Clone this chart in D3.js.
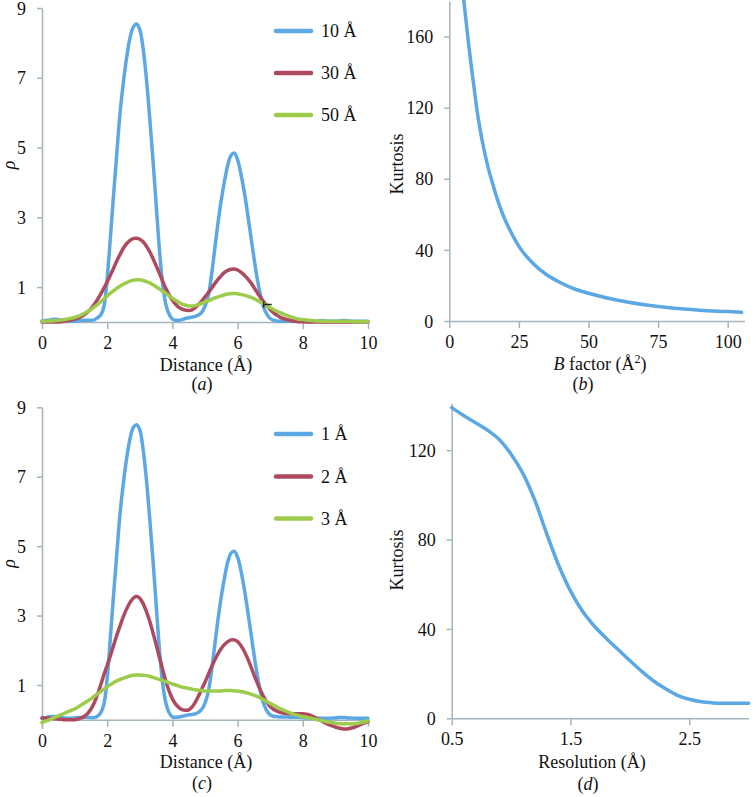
<!DOCTYPE html>
<html><head><meta charset="utf-8">
<script src="https://cdn.jsdelivr.net/npm/d3@7"></script>
<style>
body{margin:0;background:#fff;}
svg text{font-family:"Liberation Serif","Times New Roman",serif;font-size:18px;fill:#111;}
</style></head>
<body><svg id="c" width="756" height="797"></svg>
<script>
// ---------- DATA ----------
const distance = [0.0,0.1,0.2,0.3,0.4,0.5,0.6,0.7,0.8,0.9,1.0,1.1,1.2,1.3,1.4,1.5,1.6,1.7,1.8,1.9,2.0,2.1,2.2,2.3,2.4,2.5,2.6,2.7,2.8,2.9,3.0,3.1,3.2,3.3,3.4,3.5,3.6,3.7,3.8,3.9,4.0,4.1,4.2,4.3,4.4,4.5,4.6,4.7,4.8,4.9,5.0,5.1,5.2,5.3,5.4,5.5,5.6,5.7,5.8,5.9,6.0,6.1,6.2,6.3,6.4,6.5,6.6,6.7,6.8,6.9,7.0,7.1,7.2,7.3,7.4,7.5,7.6,7.7,7.8,7.9,8.0,8.1,8.2,8.3,8.4,8.5,8.6,8.7,8.8,8.9,9.0,9.1,9.2,9.3,9.4,9.5,9.6,9.7,9.8,9.9,10.0];

// panel (a): B factor series
const rhoB10 = [0.03,0.04,0.05,0.07,0.08,0.07,0.05,0.03,0.02,0.02,
  0.02,0.03,0.04,0.05,0.05,0.05,0.06,0.12,0.2,0.45,
  1.25,2.45,3.7,4.9,6.05,6.9,7.6,8.15,8.45,8.54,
  8.38,7.85,7.0,5.9,4.7,3.4,2.1,1.1,0.5,0.22,
  0.08,0.05,0.05,0.07,0.1,0.12,0.14,0.16,0.2,0.28,
  0.45,0.75,1.35,2.1,2.85,3.5,4.05,4.5,4.78,4.84,
  4.65,4.25,3.75,3.15,2.5,1.85,1.25,0.78,0.42,0.22,
  0.1,0.05,0.03,0.02,0.02,0.02,0.02,0.02,0.02,0.02,
  0.02,0.02,0.02,0.02,0.02,0.03,0.04,0.03,0.02,0.02,
  0.02,0.03,0.04,0.04,0.03,0.02,0.02,0.02,0.02,0.02,0.02];
const rhoB30 = [0,0,0,0,0,0,0.01,0.02,0.04,0.06,
  0.08,0.11,0.15,0.21,0.29,0.38,0.5,0.64,0.8,0.97,
  1.15,1.35,1.55,1.76,1.95,2.12,2.25,2.34,2.39,2.40,
  2.37,2.3,2.18,2.02,1.83,1.62,1.4,1.17,0.96,0.78,
  0.63,0.51,0.42,0.37,0.34,0.33,0.35,0.41,0.5,0.6,
  0.72,0.84,0.97,1.1,1.22,1.33,1.42,1.48,1.51,1.52,
  1.49,1.43,1.35,1.25,1.13,0.99,0.85,0.71,0.58,0.46,
  0.36,0.27,0.2,0.14,0.1,0.07,0.05,0.03,0.02,0.01,
  0.01,0,0,0,0,0,0,0,0,0,
  0,0,0,0,0,0,0,0,0,0,0];
const rhoB50 = [0.02,0.02,0.03,0.03,0.04,0.05,0.06,0.07,0.09,0.11,
  0.13,0.16,0.2,0.25,0.3,0.36,0.43,0.5,0.58,0.66,
  0.75,0.83,0.9,0.97,1.03,1.09,1.13,1.17,1.2,1.21,
  1.21,1.19,1.16,1.12,1.07,1.01,0.95,0.88,0.82,0.75,
  0.68,0.62,0.56,0.51,0.48,0.46,0.46,0.47,0.5,0.53,
  0.57,0.61,0.65,0.69,0.72,0.75,0.78,0.8,0.81,0.82,
  0.81,0.79,0.77,0.74,0.71,0.67,0.62,0.57,0.52,0.46,
  0.41,0.36,0.31,0.27,0.23,0.19,0.16,0.13,0.1,0.08,
  0.07,0.06,0.05,0.04,0.03,0.03,0.02,0.02,0.02,0.02,
  0.02,0.02,0.02,0.02,0.02,0.02,0.01,0.01,0.01,0.01,0.01];

// panel (c): resolution series
const rhoR1 = [0.04,0.06,0.08,0.09,0.09,0.08,0.06,0.05,0.04,0.04,
  0.05,0.06,0.06,0.07,0.07,0.06,0.06,0.1,0.2,0.45,
  1.2,2.4,3.65,4.85,6.0,6.85,7.55,8.1,8.42,8.5,
  8.35,7.8,6.95,5.85,4.65,3.35,2.05,1.05,0.48,0.2,
  0.08,0.07,0.08,0.1,0.12,0.14,0.15,0.17,0.21,0.3,
  0.48,0.8,1.4,2.15,2.9,3.55,4.1,4.55,4.8,4.85,
  4.68,4.3,3.8,3.2,2.55,1.9,1.3,0.82,0.46,0.25,
  0.14,0.1,0.09,0.08,0.08,0.08,0.07,0.07,0.07,0.07,
  0.06,0.05,0.05,0.04,0.04,0.04,0.04,0.04,0.04,0.05,
  0.05,0.06,0.06,0.06,0.05,0.05,0.04,0.04,0.04,0.04,0.04];
const rhoR2 = [0.05,0.05,0.05,0.04,0.03,0.02,0.01,0,0,0,
  0,0.02,0.05,0.1,0.18,0.3,0.48,0.72,1.0,1.3,
  1.57,1.85,2.15,2.45,2.72,2.98,3.2,3.38,3.5,3.56,
  3.5,3.35,3.12,2.85,2.52,2.17,1.8,1.45,1.1,0.82,
  0.6,0.45,0.35,0.29,0.27,0.28,0.36,0.5,0.68,0.88,
  1.08,1.3,1.52,1.72,1.9,2.05,2.17,2.25,2.3,2.3,
  2.25,2.14,1.98,1.78,1.55,1.3,1.07,0.85,0.66,0.5,
  0.38,0.3,0.25,0.21,0.19,0.18,0.17,0.17,0.17,0.17,
  0.17,0.16,0.14,0.1,0.05,0,-0.05,-0.1,-0.14,-0.18,
  -0.21,-0.24,-0.26,-0.27,-0.26,-0.24,-0.21,-0.17,-0.13,-0.09,-0.06];
const rhoR3 = [-0.08,-0.05,-0.01,0.03,0.07,0.11,0.15,0.19,0.23,0.27,
  0.31,0.36,0.42,0.48,0.54,0.6,0.67,0.74,0.81,0.88,
  0.95,1.01,1.07,1.12,1.16,1.2,1.23,1.26,1.28,1.29,
  1.29,1.28,1.27,1.25,1.22,1.19,1.16,1.13,1.1,1.06,
  1.03,1.0,0.97,0.94,0.92,0.9,0.88,0.86,0.85,0.84,
  0.83,0.83,0.83,0.83,0.83,0.83,0.84,0.84,0.84,0.83,
  0.82,0.81,0.79,0.77,0.74,0.71,0.67,0.62,0.57,0.52,
  0.47,0.42,0.37,0.32,0.28,0.24,0.2,0.17,0.14,0.11,
  0.09,0.07,0.05,0.03,0.01,-0.01,-0.03,-0.05,-0.07,-0.08,
  -0.1,-0.11,-0.12,-0.12,-0.12,-0.12,-0.11,-0.1,-0.08,-0.06,-0.03];

const legendA = ["10 Å","30 Å","50 Å"];
const legendC = ["1 Å","2 Å","3 Å"];

// panel (b)
const bFactor  = [5,6,7,8,9,10,12,14,16,18,20,22,25,30,35,40,45,50,60,70,80,90,100,105];
const kurtB    = [183,169,155,142,130,118,100,86,75,65,57,50.5,42,32.5,26,21.5,18,15.6,11.8,9.2,7.3,6.1,5.3,4.9];
// panel (d)
const resolution = [0.5,0.6,0.7,0.8,0.9,1.0,1.1,1.2,1.3,1.4,1.5,1.6,1.7,1.8,1.9,2.0,2.1,2.2,2.3,2.4,2.5,2.6,2.7,2.8,2.9,3.0];
const kurtR      = [139,135.5,132.3,129,124.8,118.2,109.5,97.5,82.5,68.5,57,48,41.3,35.8,30.8,25.8,21.0,16.7,13.2,10.3,8.5,7.4,6.9,6.7,6.7,6.7];

const rhoTicks = [1,3,5,7,9];
const distTicks = [0,2,4,6,8,10];
const kurtTicksB = [0,40,80,120,160];
const bTicks = [0,25,50,75,100];
const kurtTicksD = [0,40,80,120];
const resTicks = [0.5,1.5,2.5];

const colors = ["#5ca8e4","#ae4a5f","#9dcc4c"];
const axisColor = "#a3b4ba";

// ---------- DRAW ----------
const svg = d3.select("#c");

function styleAxis(g){
  g.selectAll("path.domain").attr("stroke",axisColor).attr("stroke-width",1.5);
  g.selectAll(".tick line").attr("stroke",axisColor).attr("stroke-width",1.5);
  g.selectAll(".tick text").attr("font-size",null).style("font-family",'"Liberation Serif",serif').style("font-size","18px").attr("fill","#111");
}

function xAxis(x, yPos, ticks, fmt){
  const g = svg.append("g").attr("transform",`translate(0,${yPos})`)
    .call(d3.axisBottom(x).tickValues(ticks).tickSize(7).tickSizeOuter(0).tickFormat(fmt||d3.format("d")));
  styleAxis(g);
  g.selectAll(".tick text").attr("y",27).attr("dy",0);
  return g;
}
function yAxis(y, xPos, ticks){
  const g = svg.append("g").attr("transform",`translate(${xPos},0)`)
    .call(d3.axisLeft(y).tickValues(ticks).tickSize(5).tickSizeOuter(0).tickFormat(d3.format("d")));
  styleAxis(g);
  g.selectAll(".tick text").attr("x",-16).attr("dy","0.34em");
  return g;
}

function densityPanel(yTop, yZero, yMin, series, labels, legendY, tag, titleY, tagY, artifact){
  const x = d3.scaleLinear().domain([0,10]).range([42,368]);
  const per = (yZero - yTop)/9;
  const y = d3.scaleLinear().domain([yMin,9]).range([yZero - yMin*per, yTop]);
  yAxis(y, 42, rhoTicks);
  xAxis(x, y(0), distTicks);
  const line = d3.line().x((d,i)=>x(distance[i])).y(d=>y(d)).curve(d3.curveCatmullRom.alpha(0.5));
  series.forEach((s,k)=>{
    svg.append("path").datum(s).attr("d",line).attr("fill","none")
      .attr("stroke",colors[k]).attr("stroke-width",3.5).attr("stroke-linejoin","round").attr("stroke-linecap","round");
  });
  if(artifact){
    const ax = x(artifact[0]), ay = y(artifact[1]);
    svg.append("path").attr("d",`M${ax},${ay-3}V${ay+3}M${ax},${ay}H${ax+8}`).attr("stroke","#222").attr("stroke-width",1.4).attr("fill","none");
  }
  labels.forEach((t,k)=>{
    const ly = legendY[k];
    svg.append("line").attr("x1",276).attr("x2",311).attr("y1",ly).attr("y2",ly)
      .attr("stroke",colors[k]).attr("stroke-width",4.5).attr("stroke-linecap","round");
    svg.append("text").attr("x",321).attr("y",ly+6).text(t);
  });
  svg.append("text").attr("transform",`translate(15,${(yTop+yZero)/2}) rotate(-90)`)
    .attr("text-anchor","middle").style("font-style","italic").text("ρ");
  svg.append("text").attr("x",206).attr("y",titleY).attr("text-anchor","middle").text("Distance (Å)");
  const tg = svg.append("text").attr("x",202).attr("y",tagY).attr("text-anchor","middle");
  tg.append("tspan").text("(");
  tg.append("tspan").style("font-style","italic").text(tag);
  tg.append("tspan").text(")");
}

densityPanel(8, 322, 0, [rhoB10,rhoB30,rhoB50], legendA, [31,73,115], "a", 371, 390, [6.8,0.5]);
densityPanel(407.3, 719.7, -0.25, [rhoR1,rhoR2,rhoR3], legendC, [434,476.5,518.5], "c", 768, 789, null);

// panel (b)
{
  const x = d3.scaleLinear().domain([0,106]).range([449.3,744.4]);
  const y = d3.scaleLinear().domain([0,180]).range([321,1]);
  svg.append("defs").append("clipPath").attr("id","clipB").append("rect").attr("x",440).attr("y",0).attr("width",316).attr("height",330);
  yAxis(y, 449.3, kurtTicksB);
  xAxis(x, 321, bTicks);
  const line = d3.line().x((d,i)=>x(bFactor[i])).y(d=>y(d)).curve(d3.curveMonotoneX);
  svg.append("path").datum(kurtB).attr("d",line).attr("fill","none").attr("clip-path","url(#clipB)")
    .attr("stroke",colors[0]).attr("stroke-width",3.5).attr("stroke-linecap","round");
  svg.append("text").attr("transform",`translate(403,164) rotate(-90)`).attr("text-anchor","middle").text("Kurtosis");
  const t = svg.append("text").attr("x",600).attr("y",370).attr("text-anchor","middle");
  t.append("tspan").style("font-style","italic").text("B");
  t.append("tspan").text(" factor (Å");
  t.append("tspan").attr("dy",-7).style("font-size","12px").text("2");
  t.append("tspan").attr("dy",7).text(")");
  const tg = svg.append("text").attr("x",583).attr("y",390).attr("text-anchor","middle");
  tg.append("tspan").text("(");
  tg.append("tspan").style("font-style","italic").text("b");
  tg.append("tspan").text(")");
}

// panel (d)
{
  const x = d3.scaleLinear().domain([0.5,3.0]).range([451.7,748.7]);
  const y = d3.scaleLinear().domain([0,141]).range([718.3,403.2]);
  yAxis(y, 451.7, kurtTicksD);
  xAxis(x, 718.3, resTicks, d3.format(".1f"));
  const line = d3.line().x((d,i)=>x(resolution[i])).y(d=>y(d)).curve(d3.curveCatmullRom.alpha(0.5));
  svg.append("path").datum(kurtR).attr("d",line).attr("fill","none")
    .attr("stroke",colors[0]).attr("stroke-width",3.5).attr("stroke-linecap","round");
  svg.append("text").attr("transform",`translate(403,560) rotate(-90)`).attr("text-anchor","middle").text("Kurtosis");
  svg.append("text").attr("x",592).attr("y",768).attr("text-anchor","middle").text("Resolution (Å)");
  const tg = svg.append("text").attr("x",588).attr("y",790).attr("text-anchor","middle");
  tg.append("tspan").text("(");
  tg.append("tspan").style("font-style","italic").text("d");
  tg.append("tspan").text(")");
}
</script></body></html>
